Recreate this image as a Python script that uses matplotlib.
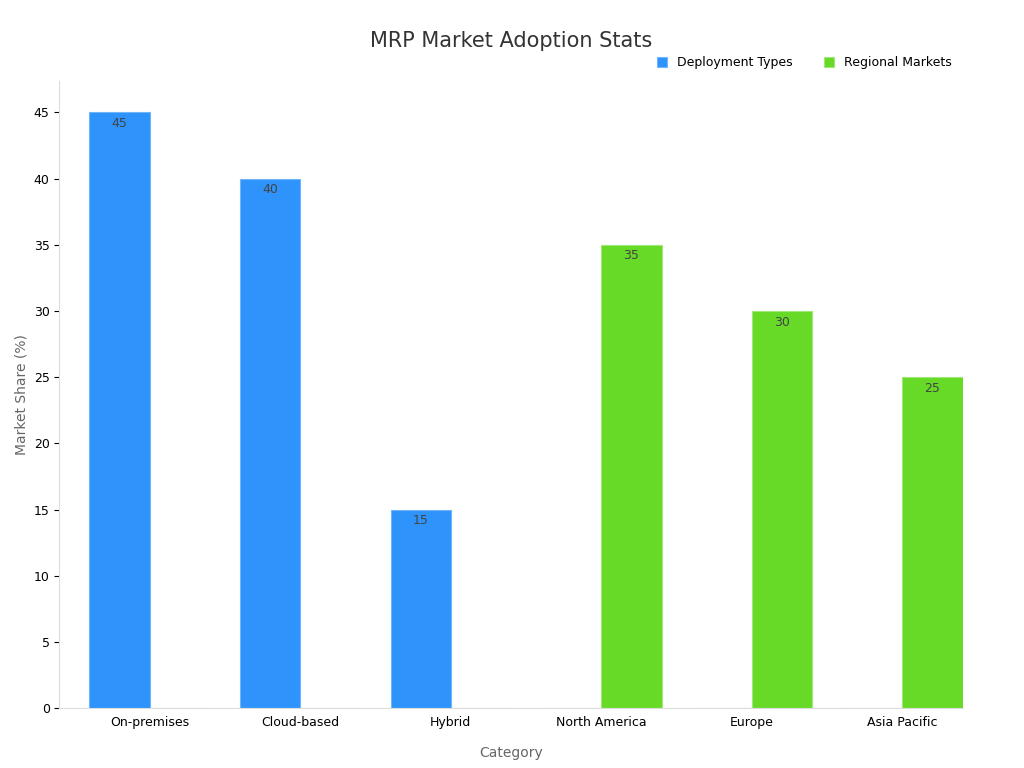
import matplotlib.pyplot as plt
import numpy as np

categories = ["On-premises", "Cloud-based", "Hybrid", "North America", "Europe", "Asia Pacific"]
deployment = [45, 40, 15, 0, 0, 0]
regional = [0, 0, 0, 35, 30, 25]

fig, ax = plt.subplots(figsize=(10.24, 7.68), dpi=100)
fig.subplots_adjust(left=0.058, right=0.94, top=0.895, bottom=0.078)

x = np.arange(len(categories))
w = 0.4
b1 = ax.bar(x - w / 2, deployment, w, color="#2e93fa", edgecolor="#6fb6fc", linewidth=0.8, label="Deployment Types")
b2 = ax.bar(x + w / 2, regional, w, color="#66da26", edgecolor="#a0e87a", linewidth=0.8, label="Regional Markets")

for bars, vals in ((b1, deployment), (b2, regional)):
    for bar, v in zip(bars, vals):
        if v:
            ax.text(bar.get_x() + bar.get_width() / 2, v - 0.35, str(v), ha="center", va="top",
                    fontsize=9, color="#444444")

ax.set_xticks(x)
ax.set_xticklabels(categories, fontsize=9)
ax.set_xlim(-0.6, 5.4)
ax.set_ylim(0, 47.4)
ax.set_yticks(range(0, 50, 5))
ax.tick_params(axis="y", labelsize=9)
ax.tick_params(axis="x", length=0, pad=6)
ax.set_xlabel("Category", fontsize=10, color="#666666", labelpad=12)
ax.set_ylabel("Market Share (%)", fontsize=10, color="#666666")
ax.set_title("MRP Market Adoption Stats", fontsize=15, color="#333333", pad=24)
for s in ("top", "right"):
    ax.spines[s].set_visible(False)
for s in ("left", "bottom"):
    ax.spines[s].set_color("#dddddd")
ax.legend(loc="lower right", bbox_to_anchor=(1.0, 1.0), ncol=2, frameon=False, fontsize=9,
          handlelength=0.8, handleheight=0.8, columnspacing=2.5)

fig.savefig("out.png")
